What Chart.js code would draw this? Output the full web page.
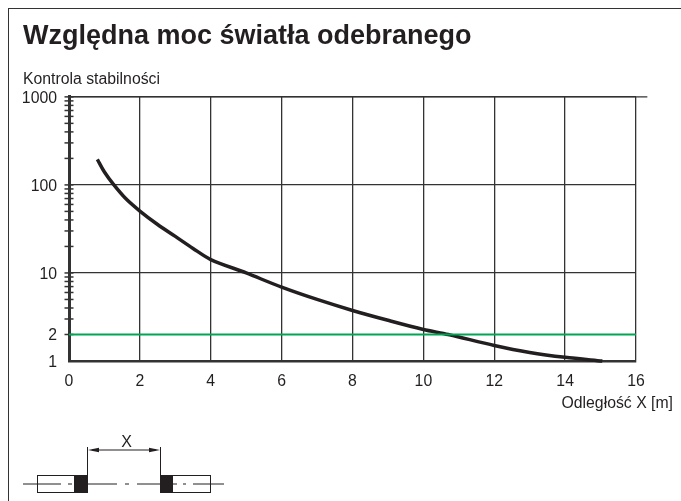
<!DOCTYPE html>
<html lang="pl">
<head>
<meta charset="utf-8">
<title>Względna moc światła odebranego</title>
<script src="https://cdn.jsdelivr.net/npm/chart.js@4"></script>
<style>
    html, body { margin: 0; padding: 0; background: #fff; overflow: hidden; }
    #wrap { position: relative; width: 681px; height: 501px; }
    #frame { position: absolute; left: 8px; top: 8px; right: 0; bottom: 0;
             border-left: 1.2px solid #333; border-top: 1.2px solid #333; }
    canvas { position: absolute; left: 0; top: 0; }
    svg { position: absolute; left: 0; top: 0; }
</style>
</head>
<body>
<div id="wrap">
    <div id="frame"></div>
    <canvas id="powerChart" width="681" height="501"></canvas>
    <!-- sketch of the sender and receiver under the chart -->
    <svg width="681" height="501" font-family="Liberation Sans, Arial, sans-serif">
        <g stroke="#231f20" stroke-width="1" fill="none">
            <path d="M23 484H61M68 484H72M87 484H117M125 484H129M137 484H160M173 484H177M183 484H186M193 484H224"/>
            <rect x="37.5" y="475.5" width="50" height="17"/>
            <rect x="160.5" y="475.5" width="50" height="17"/>
            <path d="M87.5 447V475M160.5 447V475M92 450H156"/>
        </g>
        <g fill="#231f20">
            <rect x="74" y="475" width="14" height="18"/>
            <rect x="160" y="475" width="13" height="18"/>
            <path d="M88 450L99 447.8V452.2ZM160 450L149 447.8V452.2Z"/>
            <text x="126.5" y="447" font-size="16" text-anchor="middle">X</text>
        </g>
    </svg>
</div>
<script>
// Values
const distances = [0.8, 1, 1.25, 1.6, 2, 2.5, 3, 3.5, 4, 5, 6, 7, 8, 9, 10, 10.7, 12, 13, 14, 15.05];
const relativePower = [195, 140, 102, 70, 50.5, 35.5, 26, 19, 14.2, 10, 6.9, 5, 3.75, 2.9, 2.28, 2, 1.5, 1.25, 1.1, 1];
const stabilityX = [0, 16];
const stabilityY = [2, 2];
const xTicks = [0, 2, 4, 6, 8, 10, 12, 14, 16];
const yTicks = [1, 2, 10, 100, 1000];
const yTickMarks = [2, 3, 4, 5, 6, 7, 8, 9, 10, 20, 30, 40, 50, 60, 70, 80, 90, 100,
    200, 300, 400, 500, 600, 700, 800, 900, 1000];
const topLineX = [0, 16.32];
const topLineY = [1000, 1000];

const textColor = '#231f20';
const gridColor = '#333333';
const fontName = '"Liberation Sans", Arial, sans-serif';

function toPoints(xs, ys) {
    return xs.map(function (x, i) { return { x: x, y: ys[i] }; });
}

// x axis title sits past the end of the plot, the scale title can't go there
const xCaption = {
    id: 'xCaption',
    afterDraw: function (chart) {
        const ctx = chart.ctx;
        ctx.save();
        ctx.font = '15.8px ' + fontName;
        ctx.fillStyle = textColor;
        ctx.textAlign = 'right';
        ctx.textBaseline = 'alphabetic';
        ctx.fillText('Odległość X [m]', chart.scales.x.right + 37, 408);
        ctx.restore();
    }
};

new Chart(document.getElementById('powerChart'), {
    type: 'scatter',
    data: {
        datasets: [{
            label: 'Stabilność',
            data: toPoints(stabilityX, stabilityY),
            showLine: true,
            borderColor: '#00a651',
            borderWidth: 2,
            pointRadius: 0
        }, {
            label: 'Moc światła',
            data: toPoints(distances, relativePower),
            showLine: true,
            borderColor: '#231f20',
            borderWidth: 3.5,
            tension: 0.3,
            pointRadius: 0,
            clip: false
        }, {
            label: 'Górna linia',
            data: toPoints(topLineX, topLineY),
            showLine: true,
            borderColor: gridColor,
            borderWidth: 1.3,
            pointRadius: 0,
            clip: false
        }, {
            label: 'Podziałka',
            data: yTickMarks.map(function (v) { return { x: 0, y: v }; }),
            showLine: false,
            pointStyle: 'line',
            pointRadius: 4.5,
            pointBorderColor: gridColor,
            pointBorderWidth: 1.5,
            clip: false
        }]
    },
    options: {
        responsive: false,
        animation: false,
        events: [],
        layout: { padding: { left: 23, right: 45, top: 0, bottom: 110 } },
        plugins: {
            legend: { display: false },
            tooltip: { enabled: false },
            title: {
                display: true,
                text: 'Względna moc światła odebranego',
                align: 'start',
                color: textColor,
                font: { family: fontName, size: 27, weight: 'bold' },
                padding: { top: 20, bottom: 18 }
            },
            subtitle: {
                display: true,
                text: 'Kontrola stabilności',
                align: 'start',
                color: textColor,
                font: { family: fontName, size: 15.8, weight: 'normal' },
                padding: { top: 0, bottom: 7.5 }
            }
        },
        scales: {
            x: {
                type: 'linear',
                min: 0,
                max: 16,
                afterBuildTicks: function (axis) {
                    axis.ticks = xTicks.map(function (v) { return { value: v }; });
                },
                afterFit: function (axis) { axis.height = 30; },
                border: { color: gridColor, width: 2.5 },
                grid: { color: gridColor, lineWidth: 1.3, drawTicks: false },
                ticks: {
                    autoSkip: false,
                    maxRotation: 0,
                    padding: 11,
                    color: textColor,
                    font: { family: fontName, size: 15.8 }
                }
            },
            y: {
                type: 'logarithmic',
                min: 1,
                max: 1000,
                afterBuildTicks: function (axis) {
                    axis.ticks = yTicks.map(function (v) { return { value: v }; });
                },
                afterFit: function (axis) { axis.width = 46; },
                border: { color: gridColor, width: 3 },
                grid: {
                    // the 2 line is the green dataset
                    color: function (c) {
                        return c.tick && c.tick.value === 2 ? 'rgba(0,0,0,0)' : gridColor;
                    },
                    lineWidth: 1.3,
                    drawTicks: false
                },
                ticks: {
                    autoSkip: false,
                    padding: 12,
                    labelOffset: 1.5,
                    color: textColor,
                    font: { family: fontName, size: 15.8 },
                    callback: function (value) { return String(value); }
                }
            }
        }
    },
    plugins: [xCaption]
});
</script>
</body>
</html>
